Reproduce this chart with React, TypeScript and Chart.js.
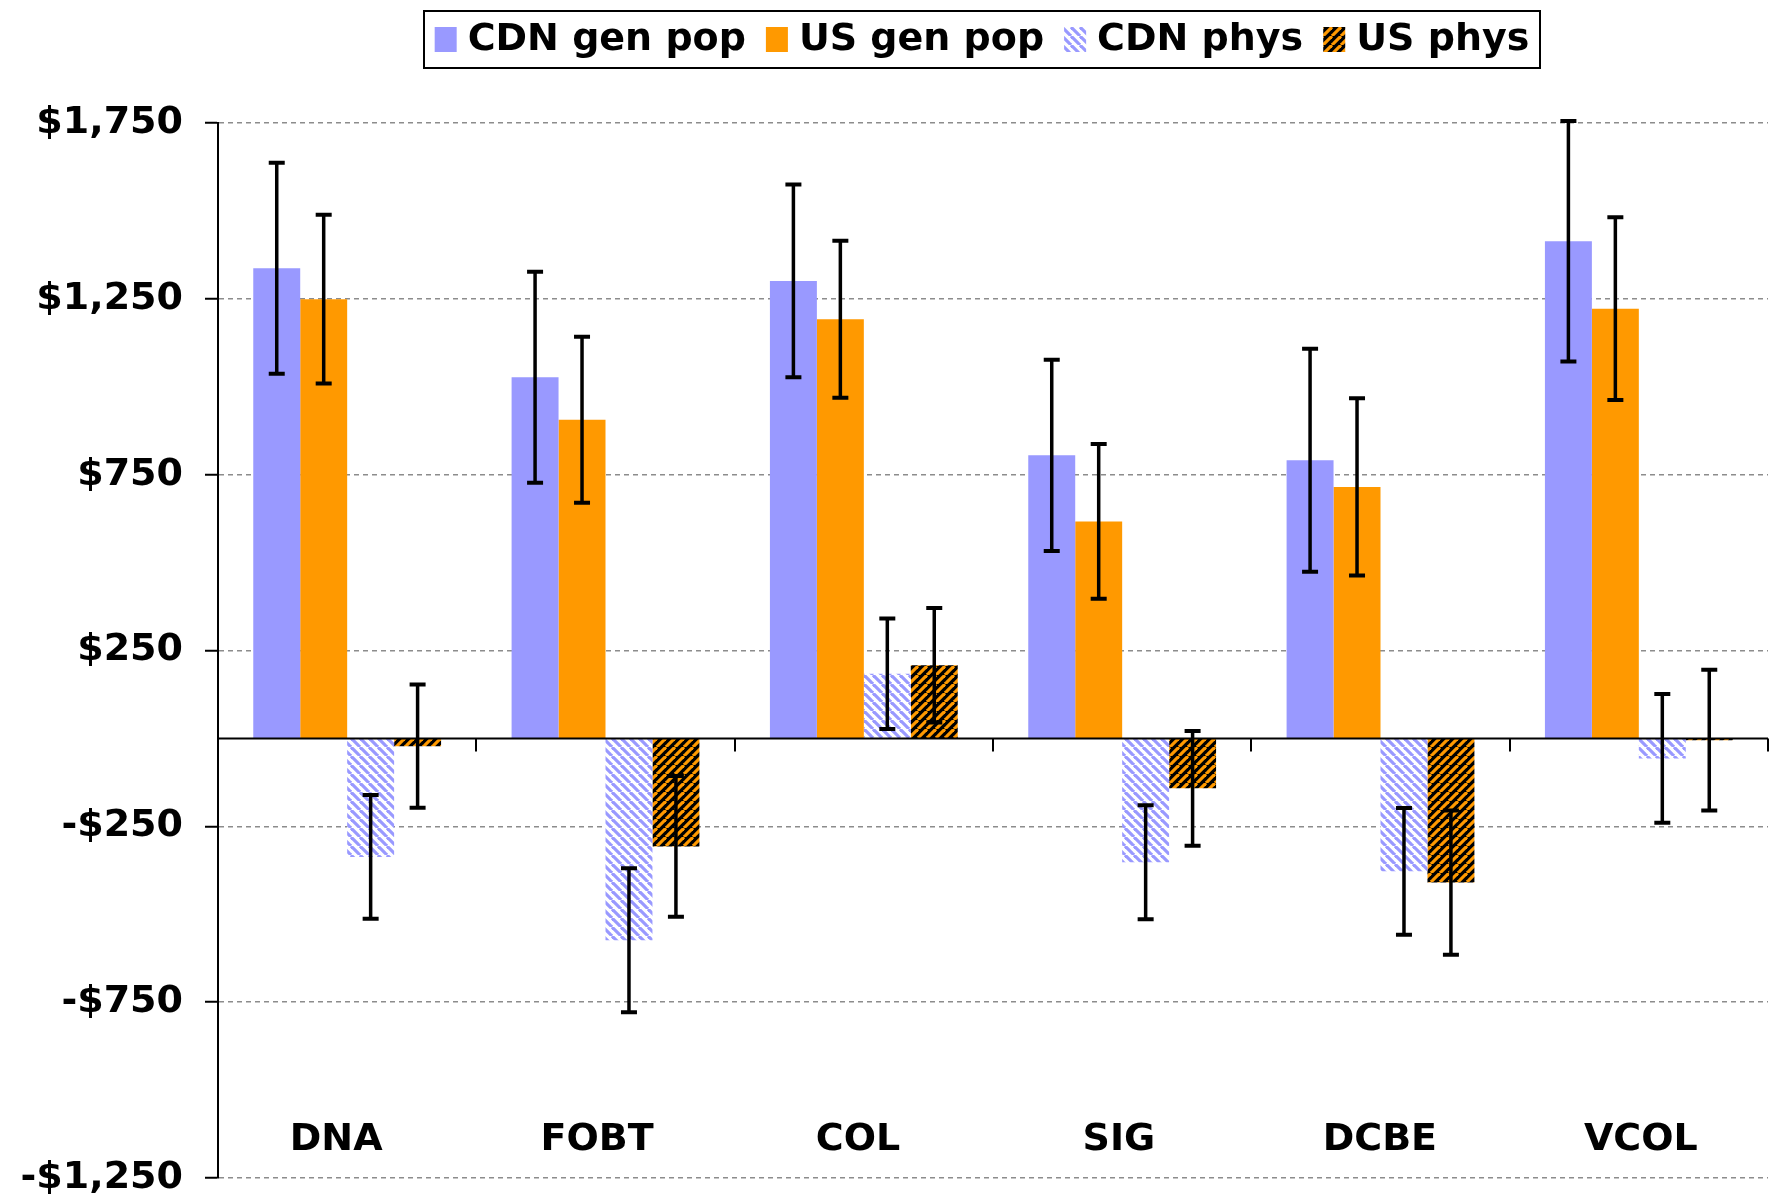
import React, { useEffect, useRef } from 'react';
import { Chart, registerables } from 'chart.js';

Chart.register(...registerables);

const categories = ['DNA', 'FOBT', 'COL', 'SIG', 'DCBE', 'VCOL'];
const seriesLabels = ['CDN gen pop', 'US gen pop', 'CDN phys', 'US phys'];
const cdnGenPop = [1337, 1027, 1301, 805, 791, 1414];
const usGenPop = [1249, 906, 1192, 617, 715, 1222];
const cdnPhys = [-337, -574, 184, -352, -378, -57];
const usPhys = [-22, -307, 208, -142, -410, -5];
const cdnGenPopErr = [300, 300, 274, 272, 317, 342];
const usGenPopErr = [240, 236, 223, 220, 252, 260];
const cdnPhysErr = [176, 205, 157, 162, 180, 183];
const usPhysErr = [175, 200, 163, 163, 205, 200];
const yTickValues = [-1250, -750, -250, 250, 750, 1250, 1750];

const errorArrays = [cdnGenPopErr, usGenPopErr, cdnPhysErr, usPhysErr];

const LAVENDER = '#9999FF';
const ORANGE = '#FF9900';
const FONT = '"DejaVu Sans", Verdana, sans-serif';

function makeStripePattern(bg: string, fg: string, lineWidth: number, size: number, backslash: boolean) {
  const c = document.createElement('canvas');
  c.width = size;
  c.height = size;
  const g = c.getContext('2d')!;
  g.fillStyle = bg;
  g.fillRect(0, 0, size, size);
  g.strokeStyle = fg;
  g.lineWidth = lineWidth;
  for (let k = -1; k <= 1; k++) {
    g.beginPath();
    if (backslash) {
      g.moveTo(k * size, 0);
      g.lineTo(k * size + size, size);
    } else {
      g.moveTo(k * size, size);
      g.lineTo(k * size + size, 0);
    }
    g.stroke();
  }
  return g.createPattern(c, 'repeat')!;
}

function formatMoney(v: number) {
  const s = '$' + Math.abs(v).toLocaleString('en-US');
  return v < 0 ? '-' + s : s;
}

export default function App() {
  const canvasRef = useRef<HTMLCanvasElement | null>(null);

  useEffect(() => {
    const canvas = canvasRef.current!;
    const cdnPhysPattern = makeStripePattern('#FFFFFF', LAVENDER, 3.2, 9, true);
    const usPhysPattern = makeStripePattern('#000000', ORANGE, 3.2, 9, false);
    const fills: any[] = [LAVENDER, ORANGE, cdnPhysPattern, usPhysPattern];

    const overlay = {
      id: 'overlay',
      afterDatasetsDraw(chart: any) {
        const { ctx, chartArea, scales } = chart;
        const xs = scales.x;
        const ys = scales.y;
        const y0 = ys.getPixelForValue(0);
        ctx.save();
        // zero axis line
        ctx.strokeStyle = '#000';
        ctx.lineWidth = 2;
        ctx.beginPath();
        ctx.moveTo(chartArea.left, y0);
        ctx.lineTo(chartArea.right, y0);
        ctx.stroke();
        const step = xs.getPixelForValue(1) - xs.getPixelForValue(0);
        for (let i = 0; i <= categories.length; i++) {
          const bx = Math.round(xs.getPixelForValue(0) - step / 2 + i * step);
          ctx.beginPath();
          ctx.moveTo(bx, y0);
          ctx.lineTo(bx, y0 + 13);
          ctx.stroke();
        }
        // error bars
        chart.data.datasets.forEach((ds: any, di: number) => {
          const meta = chart.getDatasetMeta(di);
          const errs = errorArrays[di];
          meta.data.forEach((bar: any, i: number) => {
            const v = ds.data[i];
            const e = errs[i];
            const yt = ys.getPixelForValue(v + e);
            const yb = ys.getPixelForValue(v - e);
            const bx = bar.x;
            ctx.strokeStyle = '#000';
            ctx.lineWidth = 3.5;
            ctx.beginPath();
            ctx.moveTo(bx, yt);
            ctx.lineTo(bx, yb);
            ctx.stroke();
            ctx.lineWidth = 4;
            ctx.beginPath();
            ctx.moveTo(bx - 8, yt);
            ctx.lineTo(bx + 8, yt);
            ctx.moveTo(bx - 8, yb);
            ctx.lineTo(bx + 8, yb);
            ctx.stroke();
          });
        });
        // category labels
        ctx.fillStyle = '#000';
        ctx.font = `bold 38px ${FONT}`;
        ctx.textAlign = 'center';
        ctx.textBaseline = 'middle';
        categories.forEach((c, i) => {
          ctx.fillText(c, xs.getPixelForValue(i) - 11 + 2.6 * i, chartArea.bottom - 38);
        });
        ctx.restore();
      },
      afterDraw(chart: any) {
        const { ctx } = chart;
        ctx.save();
        const boxL = 424, boxR = 1540, boxT = 11, boxB = 68;
        ctx.fillStyle = '#FFFFFF';
        ctx.fillRect(boxL, boxT, boxR - boxL, boxB - boxT);
        ctx.strokeStyle = '#000';
        ctx.lineWidth = 2;
        ctx.strokeRect(boxL, boxT, boxR - boxL, boxB - boxT);
        ctx.font = `bold 38px ${FONT}`;
        ctx.textBaseline = 'middle';
        ctx.textAlign = 'left';
        const sw = 22, sh = 25, gapText = 11, gapItem = 20;
        const widths = seriesLabels.map((l) => ctx.measureText(l).width);
        const total = widths.reduce((a, w) => a + sw + gapText + w, 0) + gapItem * (seriesLabels.length - 1);
        let x = (boxL + boxR) / 2 - total / 2;
        const cy = (boxT + boxB) / 2;
        seriesLabels.forEach((l, i) => {
          ctx.fillStyle = fills[i];
          ctx.fillRect(x, cy - sh / 2, sw, sh);
          ctx.fillStyle = '#000';
          ctx.fillText(l, x + sw + gapText, cy + 1);
          x += sw + gapText + widths[i] + gapItem;
        });
        ctx.restore();
      },
    };

    const chart = new Chart(canvas, {
      type: 'bar',
      data: {
        labels: categories,
        datasets: [
          { label: seriesLabels[0], data: cdnGenPop, backgroundColor: fills[0], borderWidth: 0 },
          { label: seriesLabels[1], data: usGenPop, backgroundColor: fills[1], borderWidth: 0 },
          { label: seriesLabels[2], data: cdnPhys, backgroundColor: fills[2], borderWidth: 0 },
          { label: seriesLabels[3], data: usPhys, backgroundColor: fills[3], borderWidth: 0 },
        ],
      },
      options: {
        responsive: false,
        animation: false,
        layout: { padding: { top: 123, bottom: 21, left: 0, right: 15 } },
        datasets: { bar: { categoryPercentage: 0.727, barPercentage: 1.0 } },
        plugins: { legend: { display: false }, tooltip: { enabled: false } },
        scales: {
          x: { type: 'category', display: false, offset: true },
          y: {
            min: -1250,
            max: 1750,
            afterBuildTicks: (s: any) => {
              s.ticks = yTickValues.map((v) => ({ value: v }));
            },
            afterFit: (s: any) => {
              s.width = 218;
              s.paddingTop = 0;
              s.paddingBottom = 0;
            },
            grid: {
              color: '#8c8c8c',
              lineWidth: 1.5,
              drawTicks: true,
              tickLength: 13,
              tickColor: '#000',
              tickWidth: 2,
            },
            border: { display: true, color: '#000', width: 2, dash: [5, 4] },
            ticks: {
              color: '#000',
              padding: 22,
              font: { family: FONT, size: 38, weight: 'bold' },
              callback: (v: any) => formatMoney(Number(v)),
            },
          },
        },
      } as any,
      plugins: [overlay],
    });
    return () => chart.destroy();
  }, []);

  return (
    <canvas
      ref={canvasRef}
      width={1783}
      height={1199}
      style={{ position: 'absolute', left: 0, top: 0, display: 'block', width: 1783, height: 1199 }}
    />
  );
}
